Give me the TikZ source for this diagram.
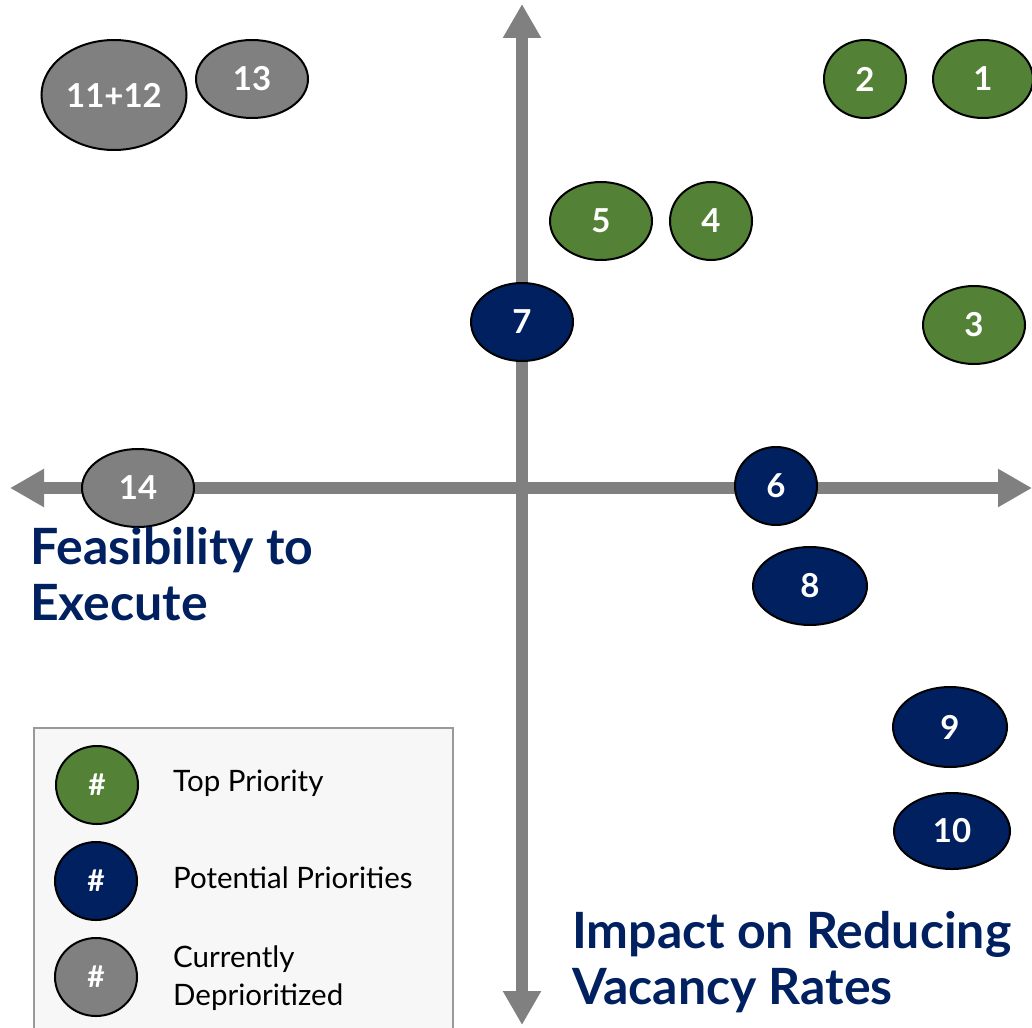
\documentclass[tikz,border=0pt]{standalone}
\usepackage{fontspec}
\setmainfont{Lato}
\usetikzlibrary{arrows.meta,shapes.geometric}

\definecolor{topgreen}{HTML}{538135}
\definecolor{potblue}{HTML}{002060}
\definecolor{depgray}{HTML}{808080}

\tikzset{
  item/.style={ellipse,draw=black,line width=2pt,inner sep=0pt,minimum width=82pt,minimum height=78pt,
    text=white,font=\fontsize{33}{36}\selectfont\bfseries},
  topprio/.style={item,fill=topgreen},
  potprio/.style={item,fill=potblue},
  depprio/.style={item,fill=depgray},
  axisline/.style={draw=depgray,line width=12pt,{Triangle[width=36pt,length=34pt]}-{Triangle[width=36pt,length=34pt]}},
  axislabel/.style={text=potblue,font=\fontsize{50}{57}\selectfont\bfseries,anchor=base west,inner sep=0pt},
  keytext/.style={font=\fontsize{29.5}{38}\selectfont,align=left,anchor=west,inner sep=0pt}
}

\begin{document}
\begin{tikzpicture}[x=1pt,y=-1pt]
  \useasboundingbox (0,0) rectangle (1032,1027);

  % axes
  \coordinate (left) at (10,488);
  \coordinate (right) at (1032,488);
  \coordinate (up) at (522,4);
  \coordinate (down) at (522,1025);
  \draw[axisline] (left) -- (right);
  \draw[axisline] (up) -- (down);

  % ideas
  \node[depprio,minimum width=145pt,minimum height=110pt] (i1112) at (114,95) {11+12};
  \node[depprio,minimum width=112pt] (i13) at (252,79) {13};
  \node[topprio] (i2) at (865,79) {2};
  \node[topprio,minimum width=100pt] (i1) at (983,79) {1};
  \node[topprio,minimum width=102pt] (i5) at (601,221) {5};
  \node[topprio] (i4) at (711,221) {4};
  \node[potprio,minimum width=102pt] (i7) at (522,322) {7};
  \node[topprio,minimum width=102pt] (i3) at (974,325) {3};
  \node[depprio,minimum width=112pt] (i14) at (138,488) {14};
  \node[potprio] (i6) at (776,486) {6};
  \node[potprio,minimum width=114pt] (i8) at (810,586) {8};
  \node[potprio,minimum width=114pt,minimum height=80pt] (i9) at (950,727) {9};
  \node[potprio,minimum width=116pt,minimum height=76pt] (i10) at (952,831) {10};

  % axis labels
  \node[axislabel] (feas1) at (30,564) {Feasibility to};
  \node[axislabel] (feas2) at (30,620) {Execute};
  \node[axislabel] (imp1) at (572,948) {Impact on Reducing};
  \node[axislabel] (imp2) at (572,1004) {Vacancy Rates};

  % legend
  \draw[draw=black!40,fill=black!3,line width=2pt] (34,728) rectangle (453,1040);
  \node[topprio,font=\fontsize{30}{32}\selectfont\bfseries] (k1) at (97,785) {\#};
  \node[potprio,font=\fontsize{30}{32}\selectfont\bfseries] (k2) at (96,881) {\#};
  \node[depprio,font=\fontsize{30}{32}\selectfont\bfseries] (k3) at (96,977) {\#};
  \node[keytext] (t1) at (173,783) {Top Priority};
  \node[keytext] (t2) at (173,878) {Potential Priorities};
  \node[keytext] (t3) at (173,978) {Currently\\Deprioritized};
\end{tikzpicture}
\end{document}
